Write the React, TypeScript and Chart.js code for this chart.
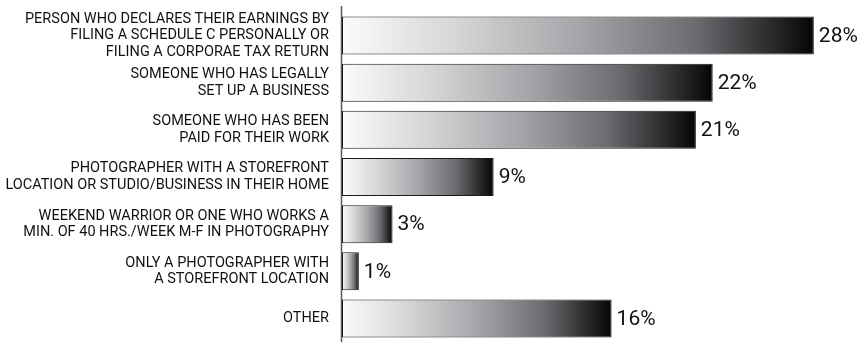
import React, { useEffect, useRef } from "react";
import { Chart, registerables } from "chart.js";

Chart.register(...registerables);

const categories: string[][] = [
  ["PERSON WHO DECLARES THEIR EARNINGS BY", "FILING A SCHEDULE C PERSONALLY OR", "FILING A CORPORAE TAX RETURN"],
  ["SOMEONE WHO HAS LEGALLY", "SET UP A BUSINESS"],
  ["SOMEONE WHO HAS BEEN", "PAID FOR THEIR WORK"],
  ["PHOTOGRAPHER WITH A STOREFRONT", "LOCATION OR STUDIO/BUSINESS IN THEIR HOME"],
  ["WEEKEND WARRIOR OR ONE WHO WORKS A", "MIN. OF 40 HRS./WEEK M-F IN PHOTOGRAPHY"],
  ["ONLY A PHOTOGRAPHER WITH", "A STOREFRONT LOCATION"],
  ["OTHER"],
];
const values: number[] = [28, 22, 21, 9, 3, 1, 16];
const valueLabels: string[] = ["28%", "22%", "21%", "9%", "3%", "1%", "16%"];

const FONT = "Roboto, 'Liberation Sans', sans-serif";

const axisLinePlugin = {
  id: "axisLine",
  beforeDatasetsDraw(chart: any) {
    const { ctx, chartArea } = chart;
    ctx.save();
    ctx.strokeStyle = "#5a5a5a";
    ctx.lineWidth = 1.5;
    ctx.beginPath();
    ctx.moveTo(chartArea.left - 0.5, 6);
    ctx.lineTo(chartArea.left - 0.5, chart.height);
    ctx.stroke();
    ctx.restore();
  },
};

const valueLabelPlugin = {
  id: "valueLabels",
  afterDatasetsDraw(chart: any) {
    const { ctx } = chart;
    const meta = chart.getDatasetMeta(0);
    ctx.save();
    ctx.font = `21px ${FONT}`;
    ctx.fillStyle = "#111";
    ctx.textAlign = "left";
    ctx.textBaseline = "middle";
    meta.data.forEach((el: any, i: number) => {
      ctx.fillText(valueLabels[i], el.x + 5, el.y + 1);
    });
    ctx.restore();
  },
};

export default function App() {
  const canvasRef = useRef<HTMLCanvasElement | null>(null);

  useEffect(() => {
    if (!canvasRef.current) return;
    const chart = new Chart(canvasRef.current, {
      type: "bar",
      data: {
        labels: categories,
        datasets: [
          {
            data: values,
            backgroundColor: (c: any) => {
              const ch = c.chart;
              if (!ch.chartArea || c.type !== "data") return "#999";
              const xs = ch.scales.x;
              const x0 = xs.getPixelForValue(0);
              const x1 = xs.getPixelForValue(c.raw);
              const g = ch.ctx.createLinearGradient(x0, 0, x1, 0);
              g.addColorStop(0, "#fbfbfb");
              g.addColorStop(0.25, "#d2d4d5");
              g.addColorStop(0.5, "#a4a6a9");
              g.addColorStop(0.75, "#6b6c70");
              g.addColorStop(1, "#050505");
              return g;
            },
            borderColor: "#1a1a1a",
            borderWidth: 1,
            borderSkipped: false,
            categoryPercentage: 1,
            barPercentage: 0.806,
          },
        ],
      },
      options: {
        indexAxis: "y",
        responsive: false,
        animation: false,
        layout: { padding: { top: 12, right: 0, bottom: 0, left: 0 } },
        plugins: {
          legend: { display: false },
          tooltip: { enabled: false },
        },
        scales: {
          x: {
            display: false,
            min: 0,
            max: 30.74,
          },
          y: {
            type: "category",
            afterFit: (scale: any) => {
              scale.width = 342;
              scale.paddingTop = 0;
              scale.paddingBottom = 0;
            },
            grid: { display: false, drawTicks: false },
            border: { display: false },
            ticks: {
              autoSkip: false,
              padding: 13,
              color: "#111",
              font: { family: FONT, size: 14.5, lineHeight: 1.14 },
            },
          },
        },
      },
      plugins: [axisLinePlugin, valueLabelPlugin],
    } as any);
    return () => chart.destroy();
  }, []);

  return (
    <div style={{ position: "fixed", left: 0, top: 0, width: 860, height: 342, background: "#fff" }}>
      <canvas ref={canvasRef} width={860} height={342} style={{ width: 860, height: 342, display: "block" }} />
    </div>
  );
}
